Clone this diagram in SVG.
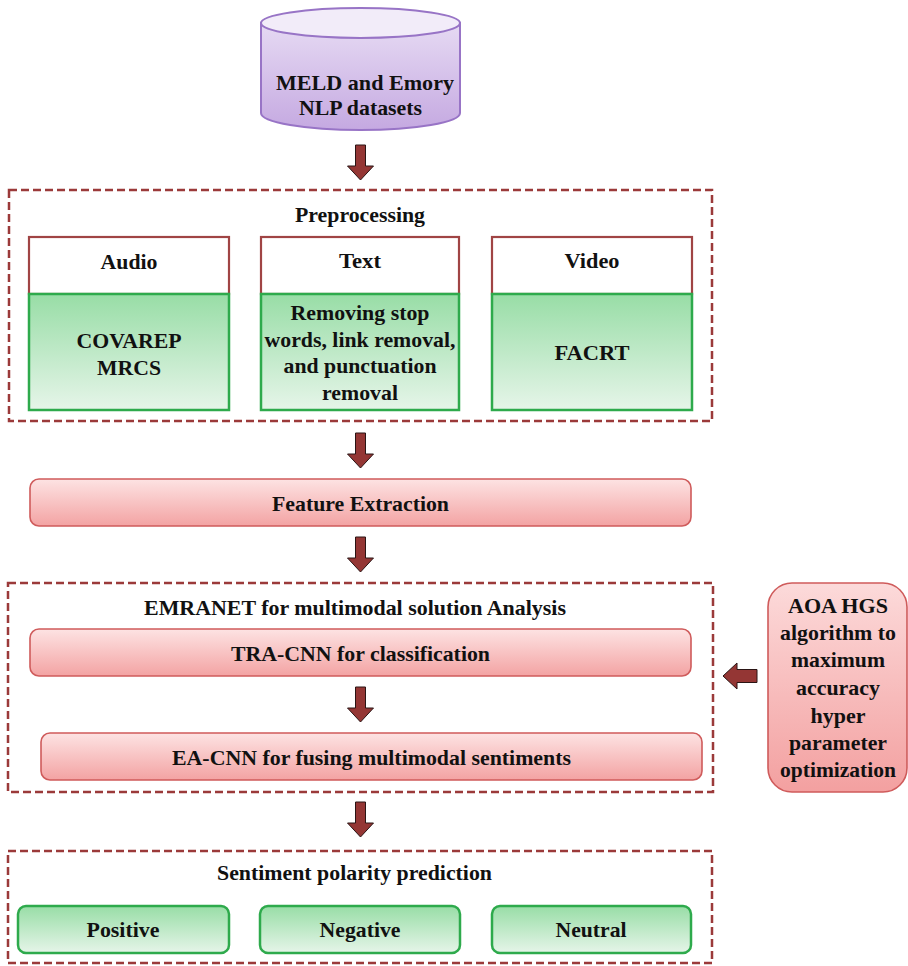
<svg xmlns="http://www.w3.org/2000/svg" width="908" height="966" viewBox="0 0 908 966">
  <defs>
    <linearGradient id="gGreen" x1="0" y1="0" x2="0" y2="1">
      <stop offset="0" stop-color="#98DDA6"/>
      <stop offset="1" stop-color="#E6F5E9"/>
    </linearGradient>
    <linearGradient id="gPink" x1="0" y1="0" x2="0" y2="1">
      <stop offset="0" stop-color="#FDE3E3"/>
      <stop offset="1" stop-color="#F3A3A3"/>
    </linearGradient>
    <linearGradient id="gPinkTall" x1="0" y1="0" x2="0" y2="1">
      <stop offset="0" stop-color="#FCDADA"/>
      <stop offset="1" stop-color="#F3A0A0"/>
    </linearGradient>
    <linearGradient id="gLav" x1="0" y1="0" x2="0" y2="1">
      <stop offset="0" stop-color="#E6DAF3"/>
      <stop offset="1" stop-color="#C5A9E1"/>
    </linearGradient>
    <path id="downArrow" d="M-5,0 H5 V21 H13 L0,35 L-13,21 H-5 Z"/>
    <style>
      text { font-family: 'Liberation Serif', Tinos, 'Times New Roman', 'Nimbus Roman', 'DejaVu Serif', serif; font-weight: 700; font-size: 22px; fill: #111111; text-anchor: middle; }
      .dash { fill: none; stroke: #9B3A3A; stroke-width: 2.5; stroke-dasharray: 8 4; }
      .head { fill: #FFFFFF; stroke: #A04444; stroke-width: 2.2; }
      .green { fill: url(#gGreen); stroke: #2EAA4C; stroke-width: 2.5; }
      .pink { fill: url(#gPink); stroke: #CF5B5B; stroke-width: 1.6; }
      .arrow { fill: #943634; stroke: #2A1414; stroke-width: 1; }
    </style>
  </defs>

  <rect width="908" height="966" fill="#FFFFFF"/>

  <g font-family="Liberation Serif, serif" font-weight="bold">
  <!-- source datasets cylinder -->
  <g id="datasets">
    <path d="M261,23 V113 A99.5,17 0 0 0 460,113 V23 Z" fill="url(#gLav)" stroke="#9874C6" stroke-width="2"/>
    <ellipse cx="360.5" cy="23" rx="99.5" ry="15" fill="#F2ECF9" stroke="#9874C6" stroke-width="2"/>
    <text x="365" y="90" font-size="26" textLength="178" lengthAdjust="spacingAndGlyphs">MELD and Emory</text>
    <text x="360.5" y="115" font-size="26" textLength="123" lengthAdjust="spacingAndGlyphs">NLP datasets</text>
  </g>

  <!-- preprocessing stage -->
  <g id="preprocessing">
    <rect class="dash" x="9" y="190" width="703" height="231"/>
    <text x="360" y="222" textLength="130" lengthAdjust="spacingAndGlyphs">Preprocessing</text>
  </g>
  <g id="audio">
    <rect class="head" x="29" y="237" width="200" height="57"/>
    <rect class="green" x="29" y="294" width="200" height="116"/>
    <text x="129" y="269" textLength="57" lengthAdjust="spacingAndGlyphs">Audio</text>
    <text x="129" y="348" textLength="105" lengthAdjust="spacingAndGlyphs">COVAREP</text>
    <text x="129" y="375" textLength="64" lengthAdjust="spacingAndGlyphs">MRCS</text>
  </g>
  <g id="text">
    <rect class="head" x="261" y="237" width="198" height="57"/>
    <rect class="green" x="261" y="294" width="198" height="116"/>
    <text x="360" y="268" textLength="42" lengthAdjust="spacingAndGlyphs">Text</text>
    <text x="360" y="320" textLength="139" lengthAdjust="spacingAndGlyphs">Removing stop</text>
    <text x="360" y="347" textLength="191" lengthAdjust="spacingAndGlyphs">words, link removal,</text>
    <text x="360" y="373" textLength="153" lengthAdjust="spacingAndGlyphs">and punctuation</text>
    <text x="360" y="400" textLength="76" lengthAdjust="spacingAndGlyphs">removal</text>
  </g>
  <g id="video">
    <rect class="head" x="492" y="237" width="200" height="57"/>
    <rect class="green" x="492" y="294" width="200" height="116"/>
    <text x="592" y="268" textLength="55" lengthAdjust="spacingAndGlyphs">Video</text>
    <text x="592" y="360" textLength="75" lengthAdjust="spacingAndGlyphs">FACRT</text>
  </g>

  <!-- feature extraction -->
  <g id="feature-extraction">
    <rect class="pink" x="30" y="479" width="661" height="47" rx="9"/>
    <text x="360.5" y="511" font-size="24" textLength="177" lengthAdjust="spacingAndGlyphs">Feature Extraction</text>
  </g>

  <!-- EMRANET analysis -->
  <g id="emranet">
    <rect class="dash" x="8" y="583" width="705" height="209"/>
    <text x="355" y="615" font-size="24" textLength="422" lengthAdjust="spacingAndGlyphs">EMRANET for multimodal solution Analysis</text>
  </g>
  <g id="tra-cnn">
    <rect class="pink" x="30" y="629" width="661" height="47" rx="9"/>
    <text x="360.5" y="661" font-size="23" textLength="259" lengthAdjust="spacingAndGlyphs">TRA-CNN for classification</text>
  </g>
  <g id="ea-cnn">
    <rect class="pink" x="41" y="733" width="661" height="47" rx="9"/>
    <text x="371.5" y="765" font-size="23" textLength="399" lengthAdjust="spacingAndGlyphs">EA-CNN for fusing multimodal sentiments</text>
  </g>

  <!-- optimiser -->
  <g id="aoa-hgs">
    <rect x="768" y="583" width="139" height="209" rx="24" fill="url(#gPinkTall)" stroke="#CF5B5B" stroke-width="1.6"/>
    <text x="838" y="613" textLength="100" lengthAdjust="spacingAndGlyphs">AOA HGS</text>
    <text x="838" y="640" textLength="116" lengthAdjust="spacingAndGlyphs">algorithm to</text>
    <text x="838" y="667" textLength="94" lengthAdjust="spacingAndGlyphs">maximum</text>
    <text x="838" y="695" textLength="84" lengthAdjust="spacingAndGlyphs">accuracy</text>
    <text x="838" y="723" textLength="55" lengthAdjust="spacingAndGlyphs">hyper</text>
    <text x="838" y="750" textLength="98" lengthAdjust="spacingAndGlyphs">parameter</text>
    <text x="838" y="777" textLength="116" lengthAdjust="spacingAndGlyphs">optimization</text>
  </g>

  <!-- sentiment polarity -->
  <g id="polarity">
    <rect class="dash" x="8" y="851" width="704" height="112"/>
    <text x="354.5" y="880" font-size="23" textLength="275" lengthAdjust="spacingAndGlyphs">Sentiment polarity prediction</text>
  </g>
  <g id="positive">
    <rect class="green" x="18" y="906" width="211" height="47" rx="8"/>
    <text x="123" y="937" textLength="73" lengthAdjust="spacingAndGlyphs">Positive</text>
  </g>
  <g id="negative">
    <rect class="green" x="260" y="906" width="200" height="47" rx="8"/>
    <text x="360" y="937" textLength="81" lengthAdjust="spacingAndGlyphs">Negative</text>
  </g>
  <g id="neutral">
    <rect class="green" x="492" y="906" width="199" height="47" rx="8"/>
    <text x="591" y="937" textLength="71" lengthAdjust="spacingAndGlyphs">Neutral</text>
  </g>
  </g>

  <!-- block arrows between stages -->
  <g id="connectors">
    <use href="#downArrow" class="arrow" transform="translate(360.5,145)"/>
    <use href="#downArrow" class="arrow" transform="translate(360.5,433)"/>
    <use href="#downArrow" class="arrow" transform="translate(360.5,537)"/>
    <use href="#downArrow" class="arrow" transform="translate(360.5,687)"/>
    <use href="#downArrow" class="arrow" transform="translate(360.5,802)"/>
    <path class="arrow" d="M757,669.5 H737 V663 L723,676 L737,689 V682.5 H757 Z"/>
  </g>
</svg>
